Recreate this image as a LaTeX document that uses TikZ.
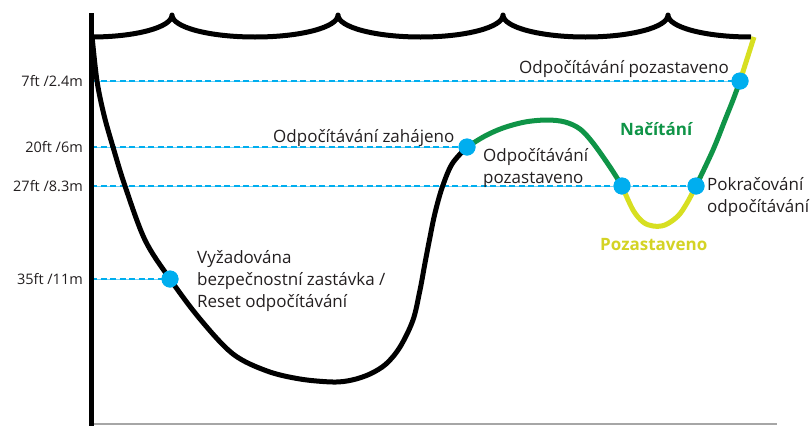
\documentclass[tikz,border=0pt]{standalone}
\usepackage{fontspec}
\setmainfont{Open Sans}
\definecolor{dcyan}{HTML}{00AEEF}
\definecolor{dgreen}{HTML}{0F9447}
\definecolor{dyellow}{HTML}{D7DF21}
\definecolor{dlabelyellow}{HTML}{D4D325}
\definecolor{dtext}{HTML}{231F20}
\tikzset{
  profile/.style={line width=5pt, line join=round},
  guide/.style={draw=dcyan!55, line width=1pt},
  guidedash/.style={draw=dcyan, line width=2.6pt, dash pattern=on 6pt off 3.5pt},
  dot/.style={circle, fill=dcyan, inner sep=0pt, minimum size=17pt},
  lbl/.style={font=\fontsize{17}{22}\selectfont, text=dtext, inner sep=0pt, align=left, anchor=base west},
  boldlbl/.style={font=\fontsize{17}{22}\selectfont\bfseries, inner sep=0pt, anchor=base west},
  depth/.style={font=\fontsize{14.5}{18}\selectfont, text=dtext, inner sep=0pt, anchor=base east},
  smoothline/.style={smooth, tension=0.55}
}
\begin{document}
\begin{tikzpicture}[x=1pt,y=-1pt]
\useasboundingbox (0,0) rectangle (810,426);
% grey axes
\draw[gray!70, line width=1.3pt] (93,40) -- (93,424) -- (777,424);
% guide lines
\coordinate (g7) at (91,81);
\coordinate (g20) at (91,147);
\coordinate (g27) at (91,186);
\coordinate (g35) at (91,279);
\node[dot] (d7) at (740,81) {};
\node[dot] (d20) at (467,147) {};
\node[dot] (d27a) at (622,186) {};
\node[dot] (d27b) at (696,186) {};
\node[dot] (d35) at (170,279) {};
\foreach \a/\b in {g7/d7, g20/d20, g27/d27b, g35/d35}{
  \draw[guide] (\a) -- (\b.center);
  \draw[guidedash] (\a) -- (\b.center);
}
% water surface
\draw[profile] (91,37) .. controls (136,37) and (172,27.2) .. (172,15)
  .. controls (172,27.2) and (209,37) .. (255,37)
  .. controls (301,37) and (338,27.2) .. (338,15)
  .. controls (338,27.2) and (375,37) .. (420.5,37)
  .. controls (466,37) and (503,27.2) .. (503,15)
  .. controls (503,27.2) and (540,37) .. (585.5,37)
  .. controls (631,37) and (668,27.2) .. (668,15)
  .. controls (668,27.2) and (705,37) .. (751,37);
% dive profile
\draw[profile] plot[smoothline] coordinates {(92,36) (97,81) (104,115) (113,147) (125,186) (145,240) (170,279) (200,319) (233,354) (267,371) (300,379) (333,382) (352,380) (370,374) (386,364) (400,347) (413,320) (420,290) (425,263) (430,237) (435,213) (442,188) (452,164) (467,147)};
\draw[profile, dgreen] plot[smoothline] coordinates {(467,147) (485,136) (503,128) (525,122) (547,120) (565,122) (580,129) (593,143) (610,167) (622,186)};
\draw[profile, dyellow] plot[smoothline] coordinates {(622,186) (633,210) (643,222) (653,226) (665,225) (678,216) (687,203) (696,186)};
\draw[profile, dgreen] plot[smoothline] coordinates {(696,186) (713,150) (725,120) (733,100) (740,81)};
\draw[profile, dyellow] (740,81) -- (754,37);
% vertical axis
\draw[line width=5pt] (91,13) -- (91,426);
% dots on top
\foreach \d in {d7,d20,d27a,d27b,d35}{ \fill[dcyan] (\d) circle (8.5pt); }
% depth labels
\node[depth] (l7) at (83,86) {7ft /2.4m};
\node[depth] (l20) at (83,152) {20ft /6m};
\node[depth] (l27) at (83,191) {27ft /8.3m};
\node[depth] (l35) at (83,284) {35ft /11m};
% annotations (base = baseline of last line)
\node[lbl] (t1) at (519,73) {Odpočítávání pozastaveno};
\node[lbl] (t2) at (273,142) {Odpočítávání zahájeno};
\node[lbl] (t3) at (483,183) {Odpočítávání\\pozastaveno};
\node[lbl] (t4) at (707,212) {Pokračování\\odpočítávání};
\node[lbl] (t5) at (197,307) {Vyžadována\\bezpečnostní zastávka /\\Reset odpočítávání};
\node[boldlbl, text=dgreen] (t6) at (620,135) {Načítání};
\node[boldlbl, text=dlabelyellow] (t7) at (600,250) {Pozastaveno};
\end{tikzpicture}
\end{document}
